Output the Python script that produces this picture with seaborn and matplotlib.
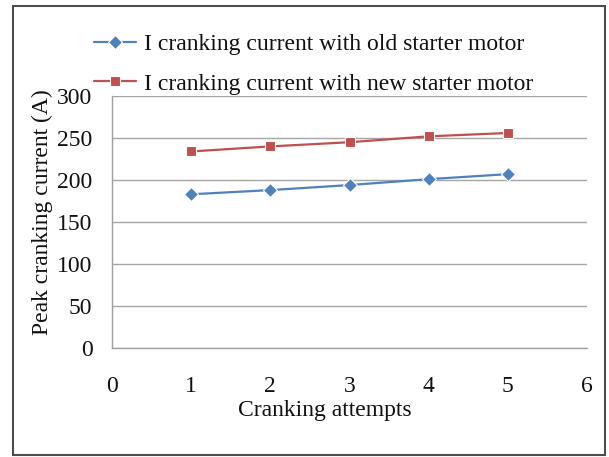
import matplotlib
matplotlib.use("Agg")
import matplotlib.pyplot as plt
from matplotlib.patches import Rectangle
import seaborn as sns
import pandas as pd

# Cranking attempts and peak cranking current (A) for each motor
attempts = [1, 2, 3, 4, 5]
old_motor = [183, 188, 194, 201, 207]
new_motor = [234, 240, 245, 252, 256]
series_names = ["I cranking current with old starter motor",
                "I cranking current with new starter motor"]
x_ticks = [0, 1, 2, 3, 4, 5, 6]
y_ticks = [0, 50, 100, 150, 200, 250, 300]

df = pd.DataFrame({
    "attempt": attempts * 2,
    "current": old_motor + new_motor,
    "series": [series_names[0]] * len(attempts) + [series_names[1]] * len(attempts),
})

sns.set_theme(style="white")
plt.rcParams["font.family"] = ["Liberation Serif", "DejaVu Serif"]

fig = plt.figure(figsize=(6.09, 4.57), dpi=100)
ax = fig.add_axes([0.1839, 0.2385, 0.78, 0.5514])

blue = "#4F81BD"
red = "#C0504D"
sns.lineplot(data=df, x="attempt", y="current", hue="series", style="series",
             markers=["D", "s"], dashes=False, palette=[blue, red],
             linewidth=1.6, markersize=7, markeredgewidth=0.8, ax=ax)

ax.set_xlim(0, 6)
ax.set_ylim(0, 300)
ax.set_xticks(x_ticks)
ax.set_yticks(y_ticks)
ax.yaxis.grid(True, color="#a6a6a6", linewidth=1.0)
ax.xaxis.grid(False)
ax.set_axisbelow(True)

for side in ["top", "right"]:
    ax.spines[side].set_visible(False)
for side in ["left", "bottom"]:
    ax.spines[side].set_color("#a0a0a0")
    ax.spines[side].set_linewidth(1.0)

text_color = "#111111"
ax.tick_params(axis="both", which="major", direction="out", length=4,
               width=1.0, color="#a0a0a0", labelsize=17, labelcolor=text_color)
ax.tick_params(axis="y", pad=10)
ax.tick_params(axis="x", pad=16)

ax.set_xlabel("Cranking attempts", fontsize=17, color=text_color, labelpad=2)
ax.set_ylabel("Peak cranking current (A)", fontsize=17, color=text_color, labelpad=3)
ax.xaxis.label.set_x(0.448)
ax.yaxis.label.set_y(0.54)

handles, labels = ax.get_legend_handles_labels()
ax.legend(handles, labels, loc="lower left", bbox_to_anchor=(0.155, 0.793),
          bbox_transform=fig.transFigure, frameon=False, fontsize=17,
          handlelength=1.75, handletextpad=0.35, labelspacing=0.77,
          borderaxespad=0, borderpad=0, labelcolor=text_color)

# Outer border around the whole chart
fig.patches.append(Rectangle((0.0213, 0.0044), 0.9721, 0.9825,
                             transform=fig.transFigure, fill=False,
                             edgecolor="#4d4d4d", linewidth=1.5))

fig.savefig("out.png", dpi=100, facecolor="white")
